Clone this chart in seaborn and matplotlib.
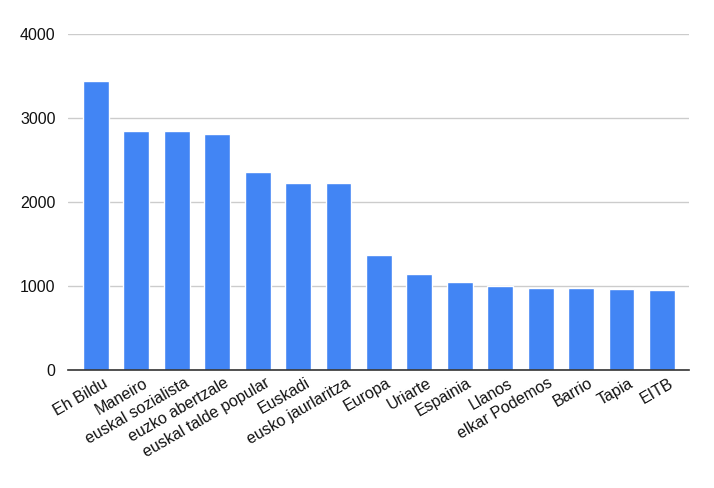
import seaborn as sns
import matplotlib.pyplot as plt
import matplotlib.transforms as mtransforms
import pandas as pd

# Data
names = ['Eh Bildu', 'Maneiro', 'euskal sozialista', 'euzko abertzale',
         'euskal talde popular', 'Euskadi', 'eusko jaurlaritza', 'Europa',
         'Uriarte', 'Espainia', 'Llanos', 'elkar Podemos', 'Barrio', 'Tapia', 'EITB']
counts = [3440, 2842, 2842, 2810, 2357, 2222, 2222, 1369,
          1143, 1044, 996, 972, 972, 960, 948]
yticks = [0, 1000, 2000, 3000, 4000]

df = pd.DataFrame({'name': names, 'count': counts})

sns.set_style("white")
plt.rcParams['font.family'] = ['Liberation Sans', 'DejaVu Sans']

fig = plt.figure(figsize=(7.14, 4.88), dpi=100)
ax = fig.add_axes([68 / 714, 1 - 370 / 488, 621 / 714, 336 / 488])

sns.barplot(data=df, x='name', y='count', color='#4285F4', saturation=1,
            width=0.64, ax=ax)

ax.set_xlim(-0.69, 14.67)
ax.set_ylim(0, 4000)
ax.set_yticks(yticks)
ax.set_yticklabels([str(t) for t in yticks], fontsize=11.5, color='#111111')
ax.yaxis.grid(True, color='#cccccc', linewidth=1)
ax.set_axisbelow(True)
ax.tick_params(axis='y', length=0, pad=9)
ax.tick_params(axis='x', length=0, pad=4)

for s in ['top', 'right', 'left']:
    ax.spines[s].set_visible(False)
ax.spines['bottom'].set_color('#333333')
ax.spines['bottom'].set_linewidth(1.2)

ax.set_xticks(range(len(names)))
ax.set_xticklabels(names, rotation=30, ha='right', va='top',
                   rotation_mode='anchor', fontsize=11.5, color='#111111')
# nudge the labels a bit to the right, like the reference
shift = mtransforms.ScaledTranslation(7 / 100, 0, fig.dpi_scale_trans)
for lbl in ax.get_xticklabels():
    lbl.set_transform(lbl.get_transform() + shift)
ax.set_xlabel('')
ax.set_ylabel('')

plt.savefig('out.png', dpi=100)
plt.close()
